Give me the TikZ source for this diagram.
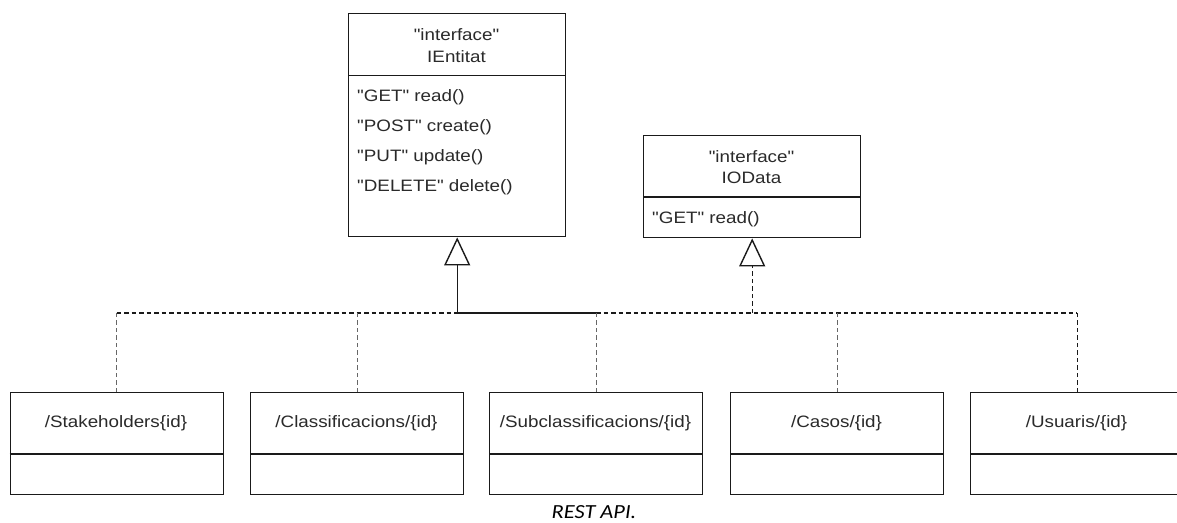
\documentclass[tikz,border=0pt]{standalone}
\usepackage{fontspec}
\setmainfont{Liberation Sans}[FakeStretch=1.14, Ligatures=TeXOff]
\newfontfamily\capfont{Carlito}[FakeStretch=1.12]
\usetikzlibrary{arrows.meta}
\definecolor{txt}{HTML}{2A2A2A}
\definecolor{edge}{HTML}{1A1A1A}
\begin{document}
\begin{tikzpicture}[x=1pt,y=-1pt,
  umlbox/.style={draw=edge, line width=1.4pt, rectangle, inner sep=0pt, anchor=north west, fill=white},
  cls/.style={umlbox, minimum width=213pt, minimum height=102pt},
  lbl/.style={text=txt, font=\fontsize{16.5pt}{19pt}\selectfont, inner sep=0pt},
  conn/.style={draw=edge, line width=1.4pt},
  dsh/.style={conn, dash pattern=on 4.5pt off 3pt},
  vdsh/.style={dsh, draw=gray!80!black},
  realize/.style={-{Triangle[length=28pt, width=26pt, fill=white]}}
]
\useasboundingbox (0,0) rectangle (1177,522);

% IEntitat interface
\node[umlbox, minimum width=217pt, minimum height=223pt] (ient) at (348,13) {};
\draw[conn] (348,75.7) -- (565,75.7);
\node[lbl] (ient1) at (456.5,35) {"interface"};
\node[lbl] (ient2) at (456.5,57) {IEntitat};
\node[lbl, anchor=west] (m1) at (357,97) {"GET" read()};
\node[lbl, anchor=west] (m2) at (357,127) {"POST" create()};
\node[lbl, anchor=west] (m3) at (357,157) {"PUT" update()};
\node[lbl, anchor=west] (m4) at (357,187) {"DELETE" delete()};

% IOData interface
\node[umlbox, minimum width=217pt, minimum height=102pt] (io) at (643,135) {};
\draw[conn] (643,197) -- (860,197);
\node[lbl] (io1) at (751.5,157) {"interface"};
\node[lbl] (io2) at (751.5,178) {IOData};
\node[lbl, anchor=west] (iom) at (652,219) {"GET" read()};

% resource classes
\foreach \n/\x/\t in {s1/9.5/{/Stakeholders\{id\}},
                      s2/250/{/Classificacions/\{id\}},
                      s3/489/{/Subclassificacions/\{id\}},
                      s4/730/{/Casos/\{id\}},
                      s5/970/{/Usuaris/\{id\}}}{
  \node[cls] (\n) at (\x,392) {};
  \draw[conn] (\x,454) -- ++(213,0);
  \node[lbl] (\n t) at (\x+106.5,423) {\t};
}

% junctions on the bus
\coordinate (bus) at (0,313);
\coordinate (jE) at (ient.south |- bus);
\coordinate (jO) at (io.south |- bus);

% connectors
\draw[conn] (s3.north |- bus) -- (jE);
\draw[conn, realize] (jE) -- (ient.south);
\draw[dsh] (s1.north |- bus) -- (jE);
\draw[dsh] (s3.north |- bus) -- (s5.north |- bus);
\draw[dsh, realize] (jO) -- (io.south);
\draw[vdsh] (s1.north) -- (s1.north |- bus);
\draw[vdsh] (s2.north) -- (s2.north |- bus);
\draw[vdsh] (s3.north) -- (s3.north |- bus);
\draw[vdsh] (s4.north) -- (s4.north |- bus);
\draw[dsh] (s5.north) -- (s5.north |- bus);

% caption
\node[inner sep=0pt, text=black, font=\capfont\itshape\fontsize{20pt}{24pt}\selectfont] (cap) at (594,512) {REST API.};
\end{tikzpicture}
\end{document}
